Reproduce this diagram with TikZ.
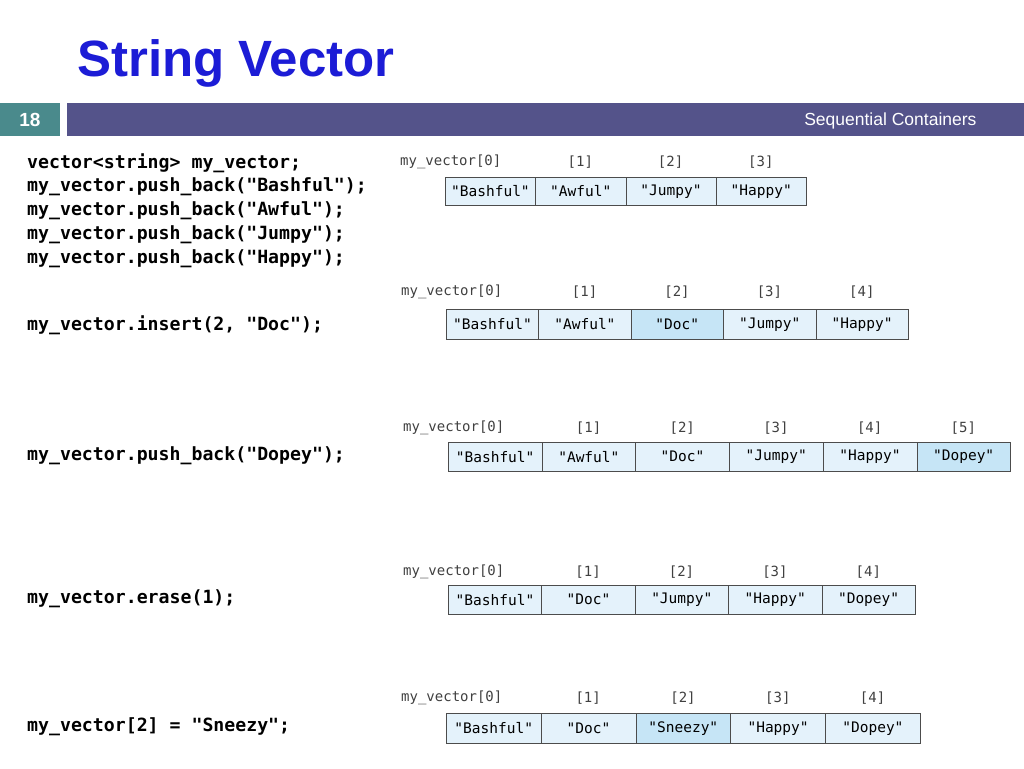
\documentclass[tikz,border=0pt]{standalone}
\usepackage{fontspec}
\setmainfont{Liberation Sans}
\newfontfamily\codef{DejaVu Sans Mono}
\definecolor{teal1}{HTML}{4A8A8C}
\definecolor{purp}{HTML}{54538A}
\definecolor{titleb}{HTML}{1C1CD6}
\definecolor{cellA}{HTML}{E4F2FB}
\definecolor{cellB}{HTML}{C6E5F6}
\definecolor{lbl}{HTML}{404040}
\tikzset{
 code/.style={anchor=west,inner sep=0pt,font=\codef\bfseries\fontsize{18.2}{20}\selectfont},
 cell/.style={draw=black!70,line width=0.6pt,fill=cellA,anchor=north west,inner sep=0pt,font=\codef\fontsize{14.5}{16}\selectfont},
 idx/.style={inner sep=0pt,font=\codef\fontsize{14}{15}\selectfont,text=lbl},
}
\begin{document}
\begin{tikzpicture}[x=1pt,y=-1pt]
\useasboundingbox (0,0) rectangle (1024,768);
\fill[white] (0,0) rectangle (1024,768);
\node[anchor=west,inner sep=0pt,text=titleb,font=\bfseries\fontsize{51}{55}\selectfont] (title) at (77,63) {String Vector};
\fill[teal1] (0,103) rectangle (60,136);
\node[text=white,font=\bfseries\fontsize{19}{20}\selectfont] (num) at (30,120) {18};
\fill[purp] (67,103) rectangle (1024,136);
\node[anchor=east,text=white,font=\fontsize{17.5}{18}\selectfont] (sec) at (980,121) {Sequential Containers};
\node[code] (c1) at (27,163) {vector<string> my\_vector;};
\node[code] (c2) at (27,187) {my\_vector.push\_back("Bashful");};
\node[code] (c3) at (27,211) {my\_vector.push\_back("Awful");};
\node[code] (c4) at (27,235) {my\_vector.push\_back("Jumpy");};
\node[code] (c5) at (27,259) {my\_vector.push\_back("Happy");};
\node[code] (c6) at (27,325) {my\_vector.insert(2, "Doc");};
\node[code] (c7) at (27,456) {my\_vector.push\_back("Dopey");};
\node[code] (c8) at (27,599) {my\_vector.erase(1);};
\node[code] (c9) at (27,727) {my\_vector[2] = "Sneezy";};
\foreach \nm/\x/\y/\w/\h/\ly/\lst in {
 a/445/177/90.25/28/162/{"Bashful"/A,"Awful"/A,"Jumpy"/A,"Happy"/A},
 b/446/309/92.4/30/292/{"Bashful"/A,"Awful"/A,"Doc"/B,"Jumpy"/A,"Happy"/A},
 c/448/442/93.7/29/428/{"Bashful"/A,"Awful"/A,"Doc"/A,"Jumpy"/A,"Happy"/A,"Dopey"/B},
 d/448/585/93.4/29/572/{"Bashful"/A,"Doc"/A,"Jumpy"/A,"Happy"/A,"Dopey"/A},
 e/446/713/94.8/30/698/{"Bashful"/A,"Doc"/A,"Sneezy"/B,"Happy"/A,"Dopey"/A}} {
 \foreach \t/\f [count=\i from 0] in \lst {
   \pgfmathsetmacro{\xx}{\x+\i*\w}
   \node[cell,fill=cell\f,minimum width=\w pt,minimum height=\h pt] (\nm\i) at (\xx,\y) {\t};
   \ifnum\i=0
     \node[idx,anchor=west] (\nm l\i) at (\x-45,\ly) {my\_vector[0]};
   \else
     \node[idx] (\nm l\i) at (\xx+\w/2,\ly) {[\i]};
   \fi
 }
}
\end{tikzpicture}
\end{document}
